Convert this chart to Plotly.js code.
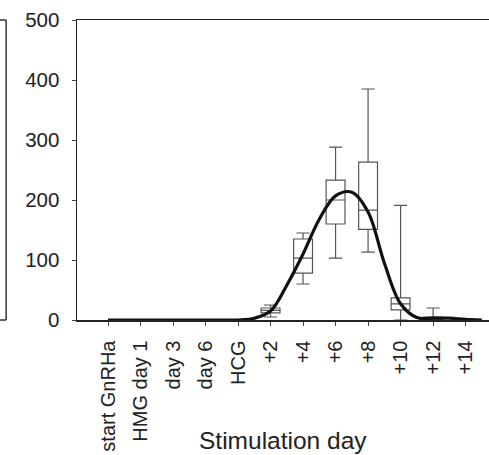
<!DOCTYPE html>
<html>
<head>
<meta charset="utf-8">
<script src="https://cdn.plot.ly/plotly-3.0.1.min.js"></script>
<style>html,body{margin:0;padding:0;overflow:hidden;background:#fff;}</style>
</head>
<body>
<div id="chart" style="width:489px;height:455px;"></div>
<script>
// Category labels of the x axis
const categories = ["start GnRHa", "HMG day 1", "day 3", "day 6", "HCG", "+2", "+4", "+6", "+8", "+10", "+12", "+14"];
const catPos = [0, 1, 2, 3, 4, 5, 6, 7, 8, 9, 10, 11];

// Box summaries
const boxX      = [5, 6, 7, 8, 9, 10];
const boxLow    = [5, 60, 103, 113, 0, 0];
const boxQ1     = [12, 78, 160, 151, 17, 1];
const boxMedian = [16, 103, 200, 183, 27, 3];
const boxQ3     = [20, 135, 233, 263, 37, 5];
const boxHigh   = [25, 145, 288, 385, 191, 20];

// Fitted curve
const curveX = [0, 1, 2, 3, 4, 4.5, 5, 5.5, 6, 6.5, 7, 7.5, 8, 8.5, 9, 9.5, 10, 10.5, 11, 11.5];
const curveY = [0, 0, 0, 0, 0, 3, 15, 58, 110, 168, 207, 213, 180, 95, 27, 4, 3, 3, 1, 0];

const fontFam = "'Liberation Sans', Arial, sans-serif";

const traces = [
  {
    type: "box",
    x: boxX,
    lowerfence: boxLow,
    q1: boxQ1,
    median: boxMedian,
    q3: boxQ3,
    upperfence: boxHigh,
    width: 0.58,
    whiskerwidth: 0.7,
    fillcolor: "rgba(255,255,255,0)",
    line: {color: "#555", width: 1.2},
    hoverinfo: "skip",
    showlegend: false
  },
  {
    type: "scatter",
    mode: "lines",
    x: curveX,
    y: curveY,
    line: {color: "#111", width: 3.2, shape: "spline", smoothing: 1},
    hoverinfo: "skip",
    showlegend: false
  }
];

const layout = {
  width: 489,
  height: 455,
  margin: {l: 77, r: 0, t: 20, b: 135},
  paper_bgcolor: "#fff",
  plot_bgcolor: "#fff",
  font: {family: fontFam, color: "#222"},
  showlegend: false,
  xaxis: {
    range: [-0.954, 11.72],
    tickmode: "array",
    tickvals: catPos,
    ticktext: categories,
    tickangle: -90,
    tickfont: {size: 20, family: fontFam, color: "#222"},
    showgrid: false,
    zeroline: false,
    showline: true,
    linecolor: "#222",
    linewidth: 1.5,
    mirror: true,
    ticks: "outside",
    ticklen: 4,
    tickcolor: "#444",
    ticklabelstandoff: 7
  },
  yaxis: {
    range: [0, 500],
    tickvals: [0, 100, 200, 300, 400, 500],
    tickfont: {size: 20.5, family: fontFam, color: "#222"},
    showgrid: false,
    zeroline: false,
    showline: true,
    linecolor: "#222",
    linewidth: 1.5,
    ticks: "outside",
    ticklen: 4,
    tickcolor: "#444",
    ticklabelstandoff: 8
  },
  annotations: [
    {
      text: "Stimulation day",
      xref: "paper", yref: "paper",
      x: 0.5, y: -0.4,
      xanchor: "center", yanchor: "middle",
      showarrow: false,
      font: {size: 24.5, family: fontFam, color: "#222"}
    }
  ],
  shapes: [
    {type: "line", xref: "paper", yref: "paper", x0: -0.172, x1: -0.172, y0: 0, y1: 1, line: {color: "#333", width: 1.5}},
    {type: "line", xref: "paper", yref: "paper", x0: -0.19, x1: -0.172, y0: 1, y1: 1, line: {color: "#333", width: 1.5}},
    {type: "line", xref: "paper", yref: "paper", x0: -0.19, x1: -0.172, y0: 0, y1: 0, line: {color: "#333", width: 1.5}}
  ]
};

Plotly.newPlot("chart", traces, layout, {staticPlot: true, displayModeBar: false});
</script>
</body>
</html>
